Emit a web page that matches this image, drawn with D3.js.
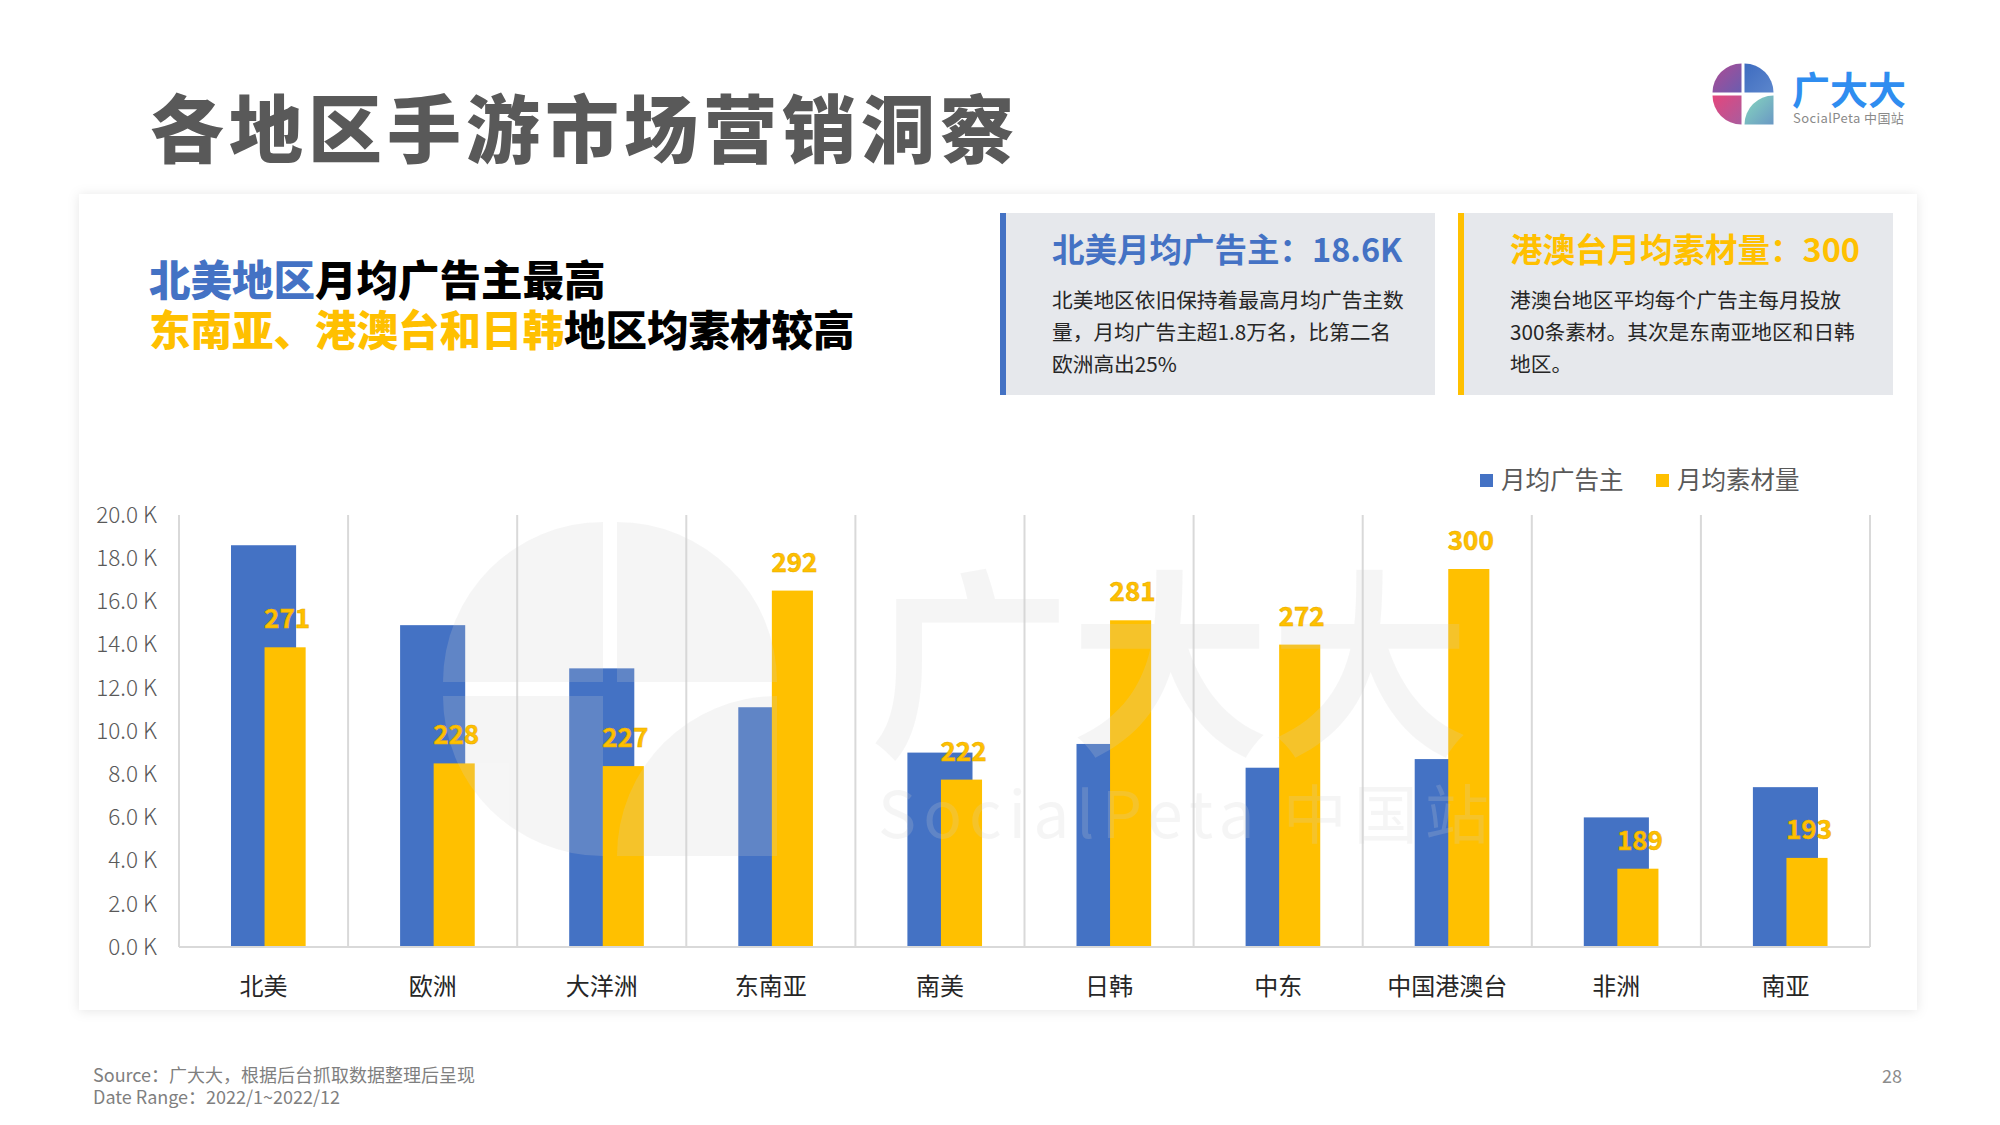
<!DOCTYPE html>
<html>
<head>
<meta charset="utf-8">
<script src="https://cdn.jsdelivr.net/npm/d3@7"></script>
<style>
  body { margin: 0; background: #fff; }
  svg { display: block; font-family: "Noto Sans CJK SC", "Noto Sans", sans-serif; }
</style>
</head>
<body>
<svg id="chart" width="2000" height="1125"></svg>
<script>
// data
const categories = ["北美", "欧洲", "大洋洲", "东南亚", "南美", "日韩", "中东", "中国港澳台", "非洲", "南亚"];
const advertisers = [18.6, 14.9, 12.9, 11.1, 9.0, 9.4, 8.3, 8.7, 6.0, 7.4]; // 月均广告主 (K)
const creatives = [271, 228, 227, 292, 222, 281, 272, 300, 189, 193];      // 月均素材量
const yTicks = [0, 2, 4, 6, 8, 10, 12, 14, 16, 18, 20];
const seriesNames = ["月均广告主", "月均素材量"];

const BLUE = "#4472C4", YELLOW = "#FFC000";

const svg = d3.select("#chart");
const defs = svg.append("defs");

const shadow = defs.append("filter").attr("id", "shadow")
  .attr("x", "-5%").attr("y", "-5%").attr("width", "110%").attr("height", "110%");
shadow.append("feDropShadow").attr("dx", 0).attr("dy", 1)
  .attr("stdDeviation", 6).attr("flood-color", "#000").attr("flood-opacity", 0.1);

// logo gradients
function grad(id, a, b) {
  const g = defs.append("linearGradient").attr("id", id)
    .attr("x1", "0").attr("y1", "0").attr("x2", "1").attr("y2", "1");
  g.append("stop").attr("offset", "0").attr("stop-color", a);
  g.append("stop").attr("offset", "1").attr("stop-color", b);
}
grad("gTL", "#B04A92", "#6A5DB0");
grad("gTR", "#3E6CC0", "#5C86CC");
grad("gBL", "#E5467C", "#A95C9E");
grad("gBR", "#86D8BE", "#6A98C4");

// title
svg.append("text").attr("x", 150).attr("y", 157)
  .attr("font-size", 74).attr("font-weight", 900).attr("letter-spacing", 5)
  .attr("fill", "#595959").text("各地区手游市场营销洞察");

// logo
function quadLogo(g, cx, cy, r, gap, fills) {
  const h = gap / 2;
  g.append("path").attr("fill", fills[0])
    .attr("d", `M${cx - h},${cy - h} L${cx - h - r},${cy - h} A${r},${r} 0 0 1 ${cx - h},${cy - h - r} Z`);
  g.append("path").attr("fill", fills[1])
    .attr("d", `M${cx + h},${cy - h} L${cx + h},${cy - h - r} A${r},${r} 0 0 1 ${cx + h + r},${cy - h} Z`);
  g.append("path").attr("fill", fills[2])
    .attr("d", `M${cx - h},${cy + h} L${cx - h},${cy + h + r} A${r},${r} 0 0 1 ${cx - h - r},${cy + h} Z`);
  g.append("path").attr("fill", fills[3])
    .attr("d", `M${cx + h + r},${cy + h + r} L${cx + h},${cy + h + r} A${r},${r} 0 0 1 ${cx + h + r},${cy + h} Z`);
}
const logo = svg.append("g");
quadLogo(logo, 1743, 94, 29, 3, ["url(#gTL)", "url(#gTR)", "url(#gBL)", "url(#gBR)"]);
svg.append("text").attr("x", 1792).attr("y", 104)
  .attr("font-size", 38).attr("font-weight", 700).attr("fill", "#2F8DF0")
  .attr("letter-spacing", 0).text("广大大");
svg.append("text").attr("x", 1793).attr("y", 123)
  .attr("font-size", 13).attr("fill", "#8a8a8a").attr("letter-spacing", 0.4)
  .text("SocialPeta 中国站");

// card
svg.append("rect").attr("x", 79).attr("y", 194).attr("width", 1838).attr("height", 816)
  .attr("fill", "#fff").attr("filter", "url(#shadow)");

// headline
const h1 = svg.append("text").attr("x", 149).attr("y", 296)
  .attr("font-size", 41.5).attr("font-weight", 900);
h1.append("tspan").attr("fill", BLUE).text("北美地区");
h1.append("tspan").attr("fill", "#000").text("月均广告主最高");
const h2 = svg.append("text").attr("x", 149).attr("y", 346)
  .attr("font-size", 41.5).attr("font-weight", 900);
h2.append("tspan").attr("fill", YELLOW).text("东南亚、港澳台和日韩");
h2.append("tspan").attr("fill", "#000").text("地区均素材较高");

// info boxes
const boxes = [
  { x: 1000, color: BLUE, title: "北美月均广告主：18.6K",
    lines: ["北美地区依旧保持着最高月均广告主数", "量，月均广告主超1.8万名，比第二名", "欧洲高出25%"] },
  { x: 1458, color: YELLOW, title: "港澳台月均素材量：300",
    lines: ["港澳台地区平均每个广告主每月投放", "300条素材。其次是东南亚地区和日韩", "地区。"] }
];
boxes.forEach(b => {
  const g = svg.append("g");
  g.append("rect").attr("x", b.x).attr("y", 213).attr("width", 435).attr("height", 182).attr("fill", "#E6E8EC");
  g.append("rect").attr("x", b.x).attr("y", 213).attr("width", 6).attr("height", 182).attr("fill", b.color);
  g.append("text").attr("x", b.x + 52).attr("y", 262)
    .attr("font-size", 32.5).attr("font-weight", 700).attr("fill", b.color).text(b.title);
  b.lines.forEach((l, i) => {
    g.append("text").attr("x", b.x + 52).attr("y", 308 + i * 32)
      .attr("font-size", 20.7).attr("fill", "#262626").text(l);
  });
});

// chart
const margin = { left: 179, right: 1870, top: 515, bottom: 947 };
const x = d3.scaleBand().domain(categories).range([margin.left, margin.right]);
const y = d3.scaleLinear().domain([0, 20]).range([margin.bottom, margin.top]);
const y2 = d3.scaleLinear().domain([160, 320]).range([margin.bottom, margin.top]);
const bw = x.bandwidth();

// vertical gridlines at category boundaries
const bounds = categories.map(c => x(c)).concat([margin.right]);
svg.append("g").selectAll("line").data(bounds).join("line")
  .attr("x1", d => d).attr("x2", d => d)
  .attr("y1", y(20)).attr("y2", y(0))
  .attr("stroke", "#D9D9D9").attr("stroke-width", 2);

// y axis
const yAxis = svg.append("g").attr("transform", `translate(${margin.left},0)`)
  .call(d3.axisLeft(y).tickValues(yTicks).tickSize(0).tickPadding(22)
    .tickFormat(d => d3.format(".1f")(d) + " K"));
yAxis.select(".domain").remove();
yAxis.selectAll("text").attr("font-size", 22.5).attr("fill", "#595959")
  .attr("font-family", "'Noto Sans CJK SC', sans-serif").attr("font-weight", 300);

// bars
const idx = d3.range(categories.length);
svg.append("g").selectAll("rect").data(idx).join("rect")
  .attr("x", i => x(categories[i]) + bw / 2 - bw * 0.385 / 2)
  .attr("width", bw * 0.385)
  .attr("y", i => y(advertisers[i]))
  .attr("height", i => y(0) - y(advertisers[i]))
  .attr("fill", BLUE);

svg.append("g").selectAll("rect").data(idx).join("rect")
  .attr("x", i => x(categories[i]) + bw / 2 + 1)
  .attr("width", bw * 0.243)
  .attr("y", i => y2(creatives[i]))
  .attr("height", i => y2(160) - y2(creatives[i]))
  .attr("fill", YELLOW);

// baseline
svg.append("line").attr("x1", margin.left).attr("x2", margin.right)
  .attr("y1", y(0)).attr("y2", y(0)).attr("stroke", "#D9D9D9").attr("stroke-width", 2);

// x axis
const xAxis = svg.append("g").attr("transform", `translate(0,${y(0)})`)
  .call(d3.axisBottom(x).tickSize(0).tickPadding(31));
xAxis.select(".domain").remove();
xAxis.selectAll("text").attr("font-size", 24).attr("fill", "#262626")
  .attr("font-family", "'Noto Sans CJK SC', sans-serif");

// watermark
const wm = svg.append("g").attr("opacity", 0.2).attr("pointer-events", "none");
quadLogo(wm, 610, 689, 160, 14, ["#d0d0d0", "#d0d0d0", "#d0d0d0", "#d0d0d0"]);
wm.append("text").attr("x", 870).attr("y", 740)
  .attr("font-size", 200).attr("font-weight", 700).attr("fill", "#d0d0d0")
  .text("广大大");
wm.append("text").attr("x", 878).attr("y", 838)
  .attr("font-size", 64).attr("fill", "#d0d0d0").attr("letter-spacing", 7)
  .text("SocialPeta 中国站");

// data labels
svg.append("g").selectAll("text").data(idx).join("text")
  .attr("x", i => x(categories[i]) + bw / 2 + 1 + bw * 0.243 / 2 + 2)
  .attr("y", i => y2(creatives[i]) - 19)
  .attr("text-anchor", "middle")
  .attr("font-size", 26).attr("font-weight", 700)
  .attr("fill", "#FFC000").attr("stroke", "#E8AC00").attr("stroke-width", 0.6)
  .text(i => creatives[i]);

// legend
const legend = svg.append("g");
const legX = [1480, 1656];
seriesNames.forEach((n, i) => {
  legend.append("rect").attr("x", legX[i]).attr("y", 474).attr("width", 13).attr("height", 13)
    .attr("fill", i === 0 ? BLUE : YELLOW);
  legend.append("text").attr("x", legX[i] + 21).attr("y", 489)
    .attr("font-size", 24.5).attr("fill", "#595959").text(n);
});

// footer
svg.append("text").attr("x", 93).attr("y", 1082).attr("font-size", 18).attr("fill", "#7F7F7F")
  .text("Source：广大大，根据后台抓取数据整理后呈现");
svg.append("text").attr("x", 93).attr("y", 1104).attr("font-size", 18).attr("fill", "#7F7F7F")
  .text("Date Range：2022/1~2022/12");
svg.append("text").attr("x", 1882).attr("y", 1083).attr("font-size", 18).attr("fill", "#8C8C8C")
  .text("28");
</script>
</body>
</html>
